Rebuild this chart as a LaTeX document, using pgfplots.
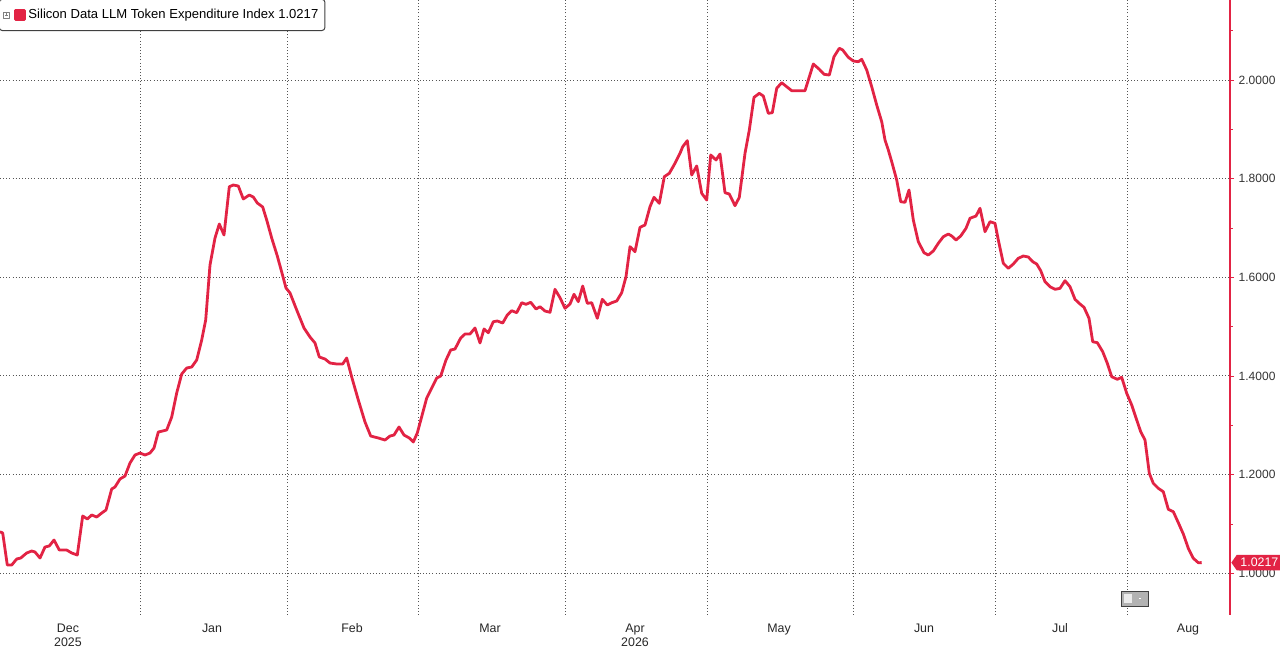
\documentclass[border=0pt]{standalone}
\usepackage{fontspec}
\setmainfont{Liberation Sans}
\usepackage{pgfplots}
\pgfplotsset{compat=1.18}
\usetikzlibrary{shapes.symbols}
\definecolor{bbred}{RGB}{226,35,68}
\definecolor{gridgray}{RGB}{85,85,85}

\pgfplotstableread{
x y
0 1.0843
2.7 1.0817
7.3 1.0168
11.7 1.0168
16.7 1.0290
20.7 1.0310
26.7 1.0412
31.7 1.0452
35 1.0432
40 1.0310
45 1.0533
49.3 1.0554
54 1.0675
59.3 1.0472
66.7 1.0472
71.7 1.0412
77.3 1.0371
82.7 1.1162
87.3 1.1101
91.7 1.1182
96.7 1.1141
101.7 1.1222
106 1.1284
111.7 1.1709
115 1.1750
120 1.1912
125 1.1972
130 1.2236
135 1.2398
140 1.2438
145 1.2398
150 1.2438
154 1.2540
158.3 1.2864
166.7 1.2905
171.7 1.3168
176.7 1.3655
181.7 1.4040
186.7 1.4162
191.7 1.4182
196.7 1.4324
201.7 1.4730
205.7 1.5135
210 1.6250
215 1.6797
219.3 1.7081
224 1.6858
229.3 1.7837
233.3 1.7871
238.3 1.7851
243.3 1.7588
249.3 1.7669
253.3 1.7628
257.3 1.7507
262.7 1.7426
266.7 1.7162
271.7 1.6797
277.3 1.6432
281.7 1.6108
286 1.5784
290 1.5683
296.7 1.5338
304 1.4973
310 1.4790
315 1.4669
319.3 1.4385
325 1.4344
330 1.4263
336.7 1.4243
342.7 1.4243
346.7 1.4365
351.7 1.3980
358.3 1.3513
365 1.3067
370.7 1.2783
378.3 1.2743
385 1.2702
390 1.2783
394 1.2803
399 1.2966
404 1.2803
409.3 1.2743
413.3 1.2662
417.3 1.2845
421.7 1.3175
426.7 1.3554
431.7 1.3756
436.7 1.3959
440.7 1.4000
446 1.4324
450.7 1.4527
455 1.4547
460.7 1.4770
465 1.4851
470 1.4851
475 1.4973
480 1.4669
484 1.4953
488.3 1.4877
493.3 1.5100
497.3 1.5115
502.7 1.5074
507.3 1.5236
511.7 1.5323
516.7 1.5283
521.7 1.5485
526 1.5453
530.7 1.5494
536 1.5358
540 1.5404
545 1.5317
550 1.5291
555 1.5757
560 1.5587
565 1.5372
570 1.5459
574 1.5656
578.3 1.5506
582.7 1.5824
587.3 1.5473
591.7 1.5485
597.3 1.5169
602.3 1.5554
607.3 1.5439
611.7 1.5485
616.7 1.5520
621.7 1.5688
626 1.6013
630 1.6621
635 1.6519
640 1.7014
645 1.7061
650 1.7432
654 1.7622
659.3 1.7501
664.3 1.8040
669.3 1.8109
675 1.8312
680 1.8514
682.7 1.8648
687.3 1.8770
691.7 1.8074
696.7 1.8257
701.7 1.7703
706.7 1.7567
710.7 1.8480
716 1.8379
720 1.8500
725 1.7715
729.3 1.7689
735 1.7452
739.3 1.7622
745 1.8514
749.3 1.8986
754 1.9649
759.3 1.9730
763.3 1.9676
768.3 1.9325
772.3 1.9337
776.7 1.9832
781.7 1.9945
786.7 1.9864
791.7 1.9783
805 1.9783
813.3 2.0324
819.3 2.0217
824 2.0116
829.3 2.0101
834 2.0472
839.3 2.0643
842.7 2.0608
848.3 2.0460
853.3 2.0385
858.3 2.0371
861.7 2.0420
866.7 2.0203
871.7 1.9864
876.7 1.9493
881.7 1.9155
885 1.8784
888.3 1.8581
891.7 1.8344
896.7 1.7973
900.7 1.7533
905 1.7521
909 1.7770
913.3 1.7162
918.3 1.6722
924 1.6499
928.3 1.6452
933.3 1.6534
938.3 1.6690
943.3 1.6823
948.3 1.6878
951.7 1.6838
956 1.6757
960.7 1.6838
966 1.6994
970 1.7197
976 1.7243
980 1.7399
985 1.6925
990 1.7128
995 1.7095
998.3 1.6757
1003.3 1.6284
1008.3 1.6183
1013.3 1.6270
1018.3 1.6386
1023.3 1.6432
1028.3 1.6412
1032.7 1.6317
1036.7 1.6270
1040.7 1.6134
1045 1.5911
1050 1.5810
1055 1.5757
1060 1.5777
1065 1.5932
1070 1.5810
1075 1.5554
1080 1.5459
1084 1.5392
1089 1.5169
1092.7 1.4695
1097.3 1.4675
1102.7 1.4492
1107.3 1.4257
1111.7 1.3985
1117.3 1.3933
1121.7 1.3973
1126.7 1.3649
1131.7 1.3412
1136.7 1.3108
1140.7 1.2870
1145 1.2702
1149.3 1.2027
1153.3 1.1824
1158.3 1.1723
1163.3 1.1654
1168.3 1.1297
1173.3 1.1249
1178.3 1.1026
1183.3 1.0797
1188.3 1.0507
1193.3 1.0304
1198.3 1.0215
1201.7 1.0217
}\indexdata

\begin{document}
\begin{tikzpicture}
\begin{axis}[
  at={(0,0)}, anchor=south west,
  scale only axis, width=922.5pt, height=461.25pt,
  xmin=0, xmax=1230, ymin=0.9155, ymax=2.1622,
  axis x line*=bottom, axis y line*=right,
  x axis line style={draw=none},
  y axis line style={draw=bbred, line width=0.8pt},
  xtick={68,212,352,490,635,779,924,1060,1188},
  xticklabels={{Dec\strut\\2025},{Jan\strut},{Feb\strut},{Mar\strut},{Apr\strut\\2026},{May\strut},{Jun\strut},{Jul\strut},{Aug\strut}},
  xticklabel style={align=center, font=\fontsize{9.3}{10.5}\selectfont, text=black!85, yshift=1pt},
  x tick style={draw=none},
  minor xtick={140,287,418,565,707,853,995,1127.5},
  xminorgrids=true,
  minor x grid style={draw=gridgray, line width=0.75pt, dash pattern=on 0.75pt off 1.6pt},
  ytick={1,1.2,1.4,1.6,1.8,2},
  minor ytick={1.1,1.3,1.5,1.7,1.9,2.1},
  ymajorgrids=true,
  major y grid style={draw=gridgray, line width=0.75pt, dash pattern=on 0.75pt off 1.6pt},
  y tick style={draw=bbred, line width=0.6pt},
  tick align=outside, major tick length=3pt, minor tick length=2pt,
  yticklabel style={font=\fontsize{9}{10.8}\selectfont, text=black!80, /pgf/number format/fixed, /pgf/number format/fixed zerofill, /pgf/number format/precision=4},
  /pgf/number format/assume math mode=true,
  clip=false,
  legend style={at={(0,1)}, anchor=north west, xshift=-1pt, yshift=1pt,
    draw=black!75, line width=0.75pt, fill=white, rounded corners=2.5pt,
    font=\fontsize{9.8}{11}\selectfont, inner xsep=3pt, inner ysep=5.5pt},
  legend image code/.code={
    \draw[sharp corners, gray, line width=0.4pt, fill=white] (0pt,-2.2pt) rectangle (4.2pt,2.2pt);
    \draw[sharp corners, gray, line width=0.35pt] (1pt,0pt) -- (3.2pt,0pt) (2.1pt,-1.1pt) -- (2.1pt,1.1pt);
    \fill[sharp corners, bbred] (9pt,-3.4pt) rectangle (15.75pt,3.4pt);
  },
]
\addplot[bbred, line width=2.1pt, line join=round] table[x=x, y=y] {\indexdata};
\addlegendentry{Silicon Data LLM Token Expenditure Index 1.0217}
\node[signal, signal to=west, signal pointer angle=110, fill=bbred, text=white,
  anchor=west, font=\fontsize{9.3}{10}\selectfont, inner xsep=2.5pt, inner ysep=2.6pt,
  minimum width=38pt] at (axis cs:1231,1.0217) {1.0217};
\draw[black!75, fill=gray!60, line width=0.7pt] (axis cs:1121,0.9337) rectangle (axis cs:1148,0.9641);
\fill[white!85!gray] (axis cs:1124,0.9400) rectangle (axis cs:1132,0.9580);
\fill[white] (axis cs:1139,0.9480) rectangle (axis cs:1141,0.9500);
\end{axis}
\pgfresetboundingbox
\path[use as bounding box] (0,-25.5pt) rectangle (960pt,461.25pt);
\end{tikzpicture}
\end{document}
